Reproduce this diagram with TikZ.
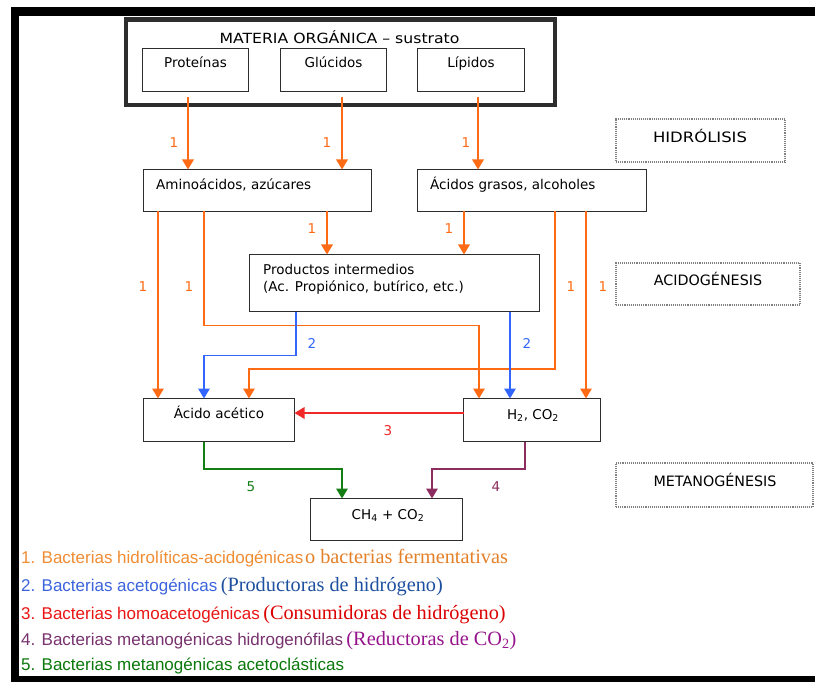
\documentclass[tikz,border=0pt]{standalone}
\usepackage{fontspec}
\usepackage{graphicx}
\usetikzlibrary{arrows.meta}
\newfontfamily\dv{DejaVu Sans}
\newfontfamily\lsans{Liberation Sans}
\newfontfamily\lserif{Liberation Serif}
\definecolor{boxgray}{RGB}{45,45,45}
\definecolor{orC}{RGB}{255,106,20}
\definecolor{blC}{RGB}{51,102,255}
\definecolor{rdC}{RGB}{240,40,40}
\definecolor{puC}{RGB}{140,45,95}
\definecolor{grC}{RGB}{20,125,20}
\definecolor{lgOr}{RGB}{240,140,50}
\definecolor{lgOrS}{RGB}{228,128,40}
\definecolor{lgBl}{RGB}{60,100,220}
\definecolor{lgBlS}{RGB}{30,80,160}
\definecolor{lgRd}{RGB}{235,20,20}
\definecolor{lgRdS}{RGB}{220,0,0}
\definecolor{lgPu}{RGB}{120,50,110}
\definecolor{lgPuS}{RGB}{150,20,140}
\definecolor{lgGr}{RGB}{10,120,10}
\begin{document}
\begin{tikzpicture}[x=1pt,y=-1pt,
  box/.style={draw=boxgray, line width=1.5pt, inner sep=0pt, outer sep=0pt, anchor=north west},
  dbox/.style={draw=gray, densely dotted, line width=1.1pt, inner sep=0pt, outer sep=0pt, anchor=north west},
  txt/.style={font=\dv\fontsize{13.5}{16}\selectfont, inner sep=0pt, text=black},
  captxt/.style={font=\dv\fontsize{14.3}{17}\selectfont, inner sep=0pt, text=black, anchor=base},
  num/.style={font=\dv\fontsize{13.5}{16}\selectfont, inner sep=0pt, anchor=base},
  conn/.style={line width=1.6pt, -{Triangle[width=11.5pt,length=10pt]}},
  leg/.style={inner sep=0pt, anchor=base west}
]
\useasboundingbox (0,0) rectangle (815,682);
\fill[white] (0,0) rectangle (815,682);
% frame
\fill[black] (11,7) rectangle (815,15.7);
\fill[black] (11,7) rectangle (19,682);
\fill[black] (11,676) rectangle (815,682);

% boxes
\node[box, line width=4.5pt, minimum width=429pt, minimum height=85.5pt] (sub) at (126,19.5) {};
\node[box, minimum width=106pt, minimum height=43pt] (prot) at (142.5,48.5) {};
\node[box, minimum width=106pt, minimum height=43pt] (gluc) at (280.5,48.5) {};
\node[box, minimum width=107pt, minimum height=43pt] (lip) at (417.5,48.5) {};
\node[box, minimum width=228pt, minimum height=42pt] (amino) at (143.5,169.5) {};
\node[box, minimum width=229pt, minimum height=42pt] (acgr) at (417.5,169.5) {};
\node[box, minimum width=290pt, minimum height=57pt] (prod) at (249.5,254.5) {};
\node[box, minimum width=151pt, minimum height=43pt] (acet) at (143.5,398.5) {};
\node[box, minimum width=137pt, minimum height=43pt] (hco) at (463.5,398.5) {};
\node[box, minimum width=152pt, minimum height=42pt] (ch) at (310.5,498.5) {};

\node[dbox, minimum width=169pt, minimum height=43pt] (hid) at (616,119) {};
\node[dbox, minimum width=184pt, minimum height=42pt] (acid) at (616,263) {};
\node[dbox, minimum width=197pt, minimum height=44pt] (met) at (616,463) {};

% texts
\node[txt, anchor=base, font=\dv\fontsize{14}{17}\selectfont] (subT) at (339.5,43.3) {\scalebox{1.12}[1]{MATERIA ORGÁNICA – sustrato}};
\node[txt, anchor=base] (protT) at (195.5,67.3) {Proteínas};
\node[txt, anchor=base] (glucT) at (333.5,67.3) {Glúcidos};
\node[txt, anchor=base] (lipT) at (471,67.3) {Lípidos};
\node[txt, anchor=base west] (aminoT) at (156,189.3) {Aminoácidos, azúcares};
\node[txt, anchor=base west] (acgrT) at (430,189.3) {Ácidos grasos, alcoholes};
\node[txt, anchor=base west] (prodT1) at (263,274.5) {Productos intermedios};
\node[txt, anchor=base west] (prodT2) at (263,291) {(Ac. Propiónico, butírico, etc.)};
\node[txt, anchor=base] (acetT) at (219,418.3) {Ácido acético};
\node[txt, anchor=base] (hcoT) at (533,419) {H\textsubscript{2}, CO\textsubscript{2}};
\node[txt, anchor=base] (chT) at (388,519) {CH\textsubscript{4} + CO\textsubscript{2}};
\node[captxt] (hidT) at (700,142.7) {\scalebox{1.15}[1]{HIDRÓLISIS}};
\node[captxt] (acidT) at (708,285.7) {ACIDOGÉNESIS};
\node[captxt] (metT) at (715,486.7) {METANOGÉNESIS};

% connector anchors
\coordinate (s1) at ([xshift=-7.5pt,yshift=-5.5pt]prot.south);
\coordinate (s2) at ([xshift=8.5pt,yshift=-5.5pt]gluc.south);
\coordinate (s3) at ([xshift=7pt,yshift=-5.5pt]lip.south);
\coordinate (a1) at ([xshift=14.5pt]amino.south west);
\coordinate (a2) at ([xshift=60.5pt]amino.south west);
\coordinate (a3) at ([xshift=183.5pt]amino.south west);
\coordinate (g1) at ([xshift=46.5pt]acgr.south west);
\coordinate (g2) at ([xshift=137.5pt]acgr.south west);
\coordinate (g3) at ([xshift=168.5pt]acgr.south west);
\coordinate (p1) at ([xshift=46.5pt]prod.south west);
\coordinate (p2) at ([xshift=260.5pt]prod.south west);
\coordinate (t1) at ([xshift=14.5pt]acet.north west);
\coordinate (t2) at ([xshift=60.5pt]acet.north west);
\coordinate (t3) at ([xshift=105.5pt]acet.north west);
\coordinate (h1) at ([xshift=15.5pt]hco.north west);
\coordinate (h2) at ([xshift=46.5pt]hco.north west);
\coordinate (h3) at ([xshift=122.5pt]hco.north west);
\coordinate (hr) at ([yshift=7pt]hco.west);
\coordinate (e1) at ([xshift=60.5pt]acet.south west);
\coordinate (e2) at ([xshift=61.5pt]hco.south west);
\coordinate (c1) at ([xshift=31.5pt]ch.north west);
\coordinate (c2) at ([xshift=121.5pt]ch.north west);

% orange connectors
\draw[conn, orC] (s1) -- (s1 |- amino.north);
\draw[conn, orC] (s2) -- (s2 |- amino.north);
\draw[conn, orC] (s3) -- (s3 |- acgr.north);
\draw[conn, orC] (a3) -- (a3 |- prod.north);
\draw[conn, orC] (g1) -- (g1 |- prod.north);
\draw[conn, orC] (a1) -- (t1);
\draw[conn, orC] (a2) -- ++(0,114) -| (h1);
\draw[conn, orC] (g2) -- ++(0,157.5) -| (t3);
\draw[conn, orC] (g3) -- (h3);
% blue
\draw[conn, blC] (p1) -- ++(0,44) -| (t2);
\draw[conn, blC] (p2) -- (h2);
% red
\draw[conn, rdC] (hr) -- (hr -| acet.east);
% green and purple
\draw[conn, grC] (e1) -- ++(0,27.5) -| (c1);
\draw[conn, puC] (e2) -- ++(0,27.5) -| (c2);

% numbers
\node[num, orC] (n1) at (174,147.3) {1};
\node[num, orC] (n2) at (327,147.3) {1};
\node[num, orC] (n3) at (466,147.3) {1};
\node[num, orC] (n4) at (312,234) {1};
\node[num, orC] (n5) at (449,234) {1};
\node[num, orC] (n6) at (143,291.7) {1};
\node[num, orC] (n7) at (189,291.7) {1};
\node[num, orC] (n8) at (571,291.7) {1};
\node[num, orC] (n9) at (603,291.7) {1};
\node[num, blC] (n10) at (312,348.3) {2};
\node[num, blC] (n11) at (527,348.3) {2};
\node[num, rdC] (n12) at (388,435) {3};
\node[num, puC] (n13) at (496,491) {4};
\node[num, grC] (n14) at (251,491.7) {5};

% legend
\node[leg] (l1) at (21,563) {{\lsans\fontsize{17}{20}\selectfont\color{lgOr}1. Bacterias hidrolíticas-acidogénicas}\,{\lserif\fontsize{20.3}{23}\selectfont\color{lgOrS}o bacterias fermentativas}};
\node[leg] (l2) at (21,591) {{\lsans\fontsize{17}{20}\selectfont\color{lgBl}2. Bacterias acetogénicas} {\lserif\fontsize{20.3}{23}\selectfont\color{lgBlS}(Productoras de hidrógeno)}};
\node[leg] (l3) at (21,619) {{\lsans\fontsize{17}{20}\selectfont\color{lgRd}3. Bacterias homoacetogénicas} {\lserif\fontsize{20.3}{23}\selectfont\color{lgRdS}(Consumidoras de hidrógeno)}};
\node[leg] (l4) at (21,645) {{\lsans\fontsize{17}{20}\selectfont\color{lgPu}4. Bacterias metanogénicas hidrogenófilas} {\lserif\fontsize{20.3}{23}\selectfont\color{lgPuS}(Reductoras de CO\textsubscript{2})}};
\node[leg] (l5) at (21,670) {{\lsans\fontsize{17}{20}\selectfont\color{lgGr}5. Bacterias metanogénicas acetoclásticas}};
\end{tikzpicture}
\end{document}
